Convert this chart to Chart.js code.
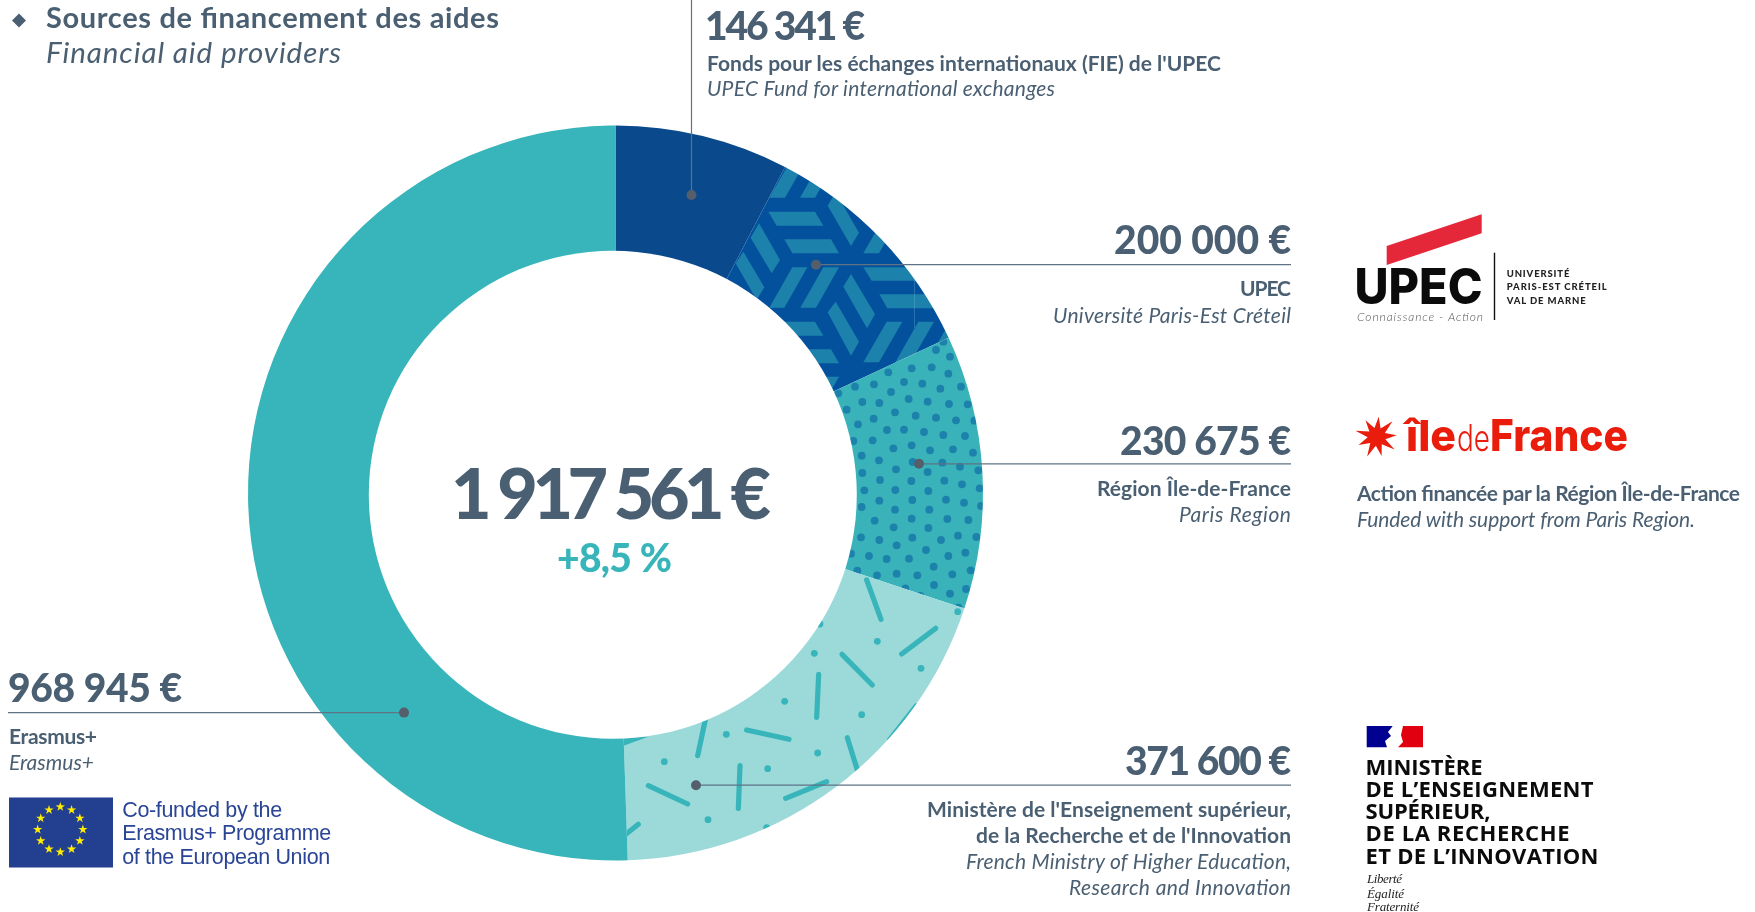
<!DOCTYPE html>
<html lang="fr"><head><meta charset="utf-8">
<title>Sources de financement des aides</title>
<script src="https://cdn.jsdelivr.net/npm/chart.js@4"></script>
<style>
html,body{margin:0;padding:0;background:#fff;width:1755px;height:912px;overflow:hidden}
#c{position:absolute;left:0;top:0}
#o{position:absolute;left:0;top:0}
</style></head><body>
<canvas id="c" width="1755" height="912"></canvas>
<svg id="o" xmlns="http://www.w3.org/2000/svg" width="1755" height="912" viewBox="0 0 1755 912"></svg>
<script>
// ---- data ----
const categories = ["Fonds pour les échanges internationaux (FIE) de l'UPEC","UPEC","Région Île-de-France","Ministère de l'Enseignement supérieur, de la Recherche et de l'Innovation","Erasmus+"];
const values = [146341,200000,230675,371600,968945];
const totalLabel = "1 917 561 €";
const changeLabel = "+8,5 %";

// ---- colours ----
const NAVY="#0A4A8C", HEXBASE="#03519D", HEXLINE="#1C82AB", DOTBASE="#39B3B9", DOTINK="#1C82AB", PALE="#9CDADA", TEAL="#38B5BA", INK="#4A5F72", LEAD="#5F7385", PIN="#555F6C";

// ---- decorative fill textures (fixed shapes, in zoomed crop units) ----
const hexShapes = [
 [[115,155],[255,155],[280,197],[140,197]],[[163,238],[303,238],[327,280],[187,280]],
 [[387,218],[363,258],[293,137],[317,97]],[[62,233],[87,190],[150,300],[125,340]],
 [[17,310],[40,275],[103,382],[80,420]],[[187,322],[232,322],[163,443],[118,443]],
 [[280,322],[327,322],[258,443],[211,443]],[[400,322],[540,322],[565,362],[425,362]],
 [[448,403],[590,403],[612,445],[472,445]],[[340,380],[363,342],[435,463],[411,505]],
 [[293,457],[317,425],[387,545],[363,587]],[[470,485],[517,485],[447,607],[400,607]],
 [[565,485],[612,485],[542,607],[496,607]],[[115,485],[255,485],[280,527],[140,527]],
 [[163,568],[303,568],[327,610],[187,610]],[[118,113],[165,113],[235,-9],[188,-9]],
 [[210,113],[255,113],[325,-9],[280,-9]],[[400,280],[447,280],[517,158],[470,158]],
 [[280,650],[327,650],[258,771],[211,771]],[[660,485],[707,485],[637,607],[590,607]]
];
const dotSpots = [[245,85],[305,82],[355,101],[360,50],[175,97],[132,133],[75,140],[222,126],[277,131],[331,146],[393,140],[183,156],[97,186],[148,189],[236,177],[293,185],[357,192],[413,193],[50,209],[195,217],[257,227],[318,233],[378,241],[433,242],[84,253],[131,236],[171,270],[222,269],[282,276],[340,285],[405,288],[128,301],[70,303],[190,325],[245,316],[300,331],[369,328],[429,338],[95,347],[147,361],[248,366],[337,368],[390,380],[445,391],[97,399],[198,388],[293,396],[150,420],[244,423],[343,422],[396,433],[449,445],[103,451],[196,450],[295,453],[148,482],[247,480],[348,479],[402,488],[453,498],[95,501],[195,509],[298,509],[134,542],[245,536],[352,537],[415,540],[191,562],[295,564],[93,592],[148,600],[247,593],[333,600],[384,587],[439,591],[63,641],[200,616],[288,630],[406,638],[117,648],[170,657],[237,656],[355,648],[311,680],[422,691],[82,692],[141,706],[200,701],[262,706],[367,703],[226,745],[312,735],[408,747],[360,761],[271,768],[318,790],[385,803],[25,160],[318,30],[340,5]];
const sprinkleDashes = [[770,60,813,178],[875,282,977,205],[696,283,787,375],[626,343,620,472],[410,510,537,538],[288,470,263,587],[390,617,385,745],[115,677,233,732],[527,715,650,665],[712,533,745,640],[10,853,85,793]];
const sprinkleDots = [[802,244],[933,325],[613,280],[755,464],[524,424],[623,579],[349,523],[473,626],[163,605],[294,779],[1043,155],[630,192],[470,803]];
const sprinkleWedges = [[[20,535],[115,530],[20,565]],[[830,538],[915,430],[935,430],[845,545]]];

function layer(base,paint){
  const t=document.createElement('canvas');t.width=1755;t.height=912;
  const g=t.getContext('2d');g.fillStyle=base;g.fillRect(0,0,1755,912);paint(g);
  return g.createPattern(t,'no-repeat');
}
const crop=(ox,oy)=>([x,y])=>[ox+x/3,oy+y/3];
const hexFill=layer(HEXBASE,g=>{
  const m=crop(730,160);g.fillStyle=HEXLINE;
  hexShapes.forEach(s=>{g.beginPath();s.map(m).forEach(([x,y],i)=>i?g.lineTo(x,y):g.moveTo(x,y));g.closePath();g.fill();});
  g.strokeStyle="rgba(120,190,215,.3)";g.lineWidth=1;g.beginPath();g.moveTo(914.5,280);g.lineTo(914.5,328);g.stroke();
});
const dotFill=layer(DOTBASE,g=>{
  const m=crop(830,340);g.fillStyle=DOTINK;
  dotSpots.forEach(p=>{const [x,y]=m(p);g.beginPath();g.arc(x,y,3.9,0,7);g.fill();});
});
const sprinkleFill=layer(PALE,g=>{
  const m=crop(610,560);g.fillStyle=TEAL;g.strokeStyle=TEAL;g.lineCap='round';g.lineWidth=5.2;
  sprinkleDashes.forEach(d=>{const a=m([d[0],d[1]]),b=m([d[2],d[3]]);g.beginPath();g.moveTo(a[0],a[1]);g.lineTo(b[0],b[1]);g.stroke();});
  sprinkleDots.forEach(p=>{const [x,y]=m(p);g.beginPath();g.arc(x,y,3.4,0,7);g.fill();});
  sprinkleWedges.forEach(s=>{g.beginPath();s.map(m).forEach(([x,y],i)=>i?g.lineTo(x,y):g.moveTo(x,y));g.closePath();g.fill();});
});

// the reference's hole sits slightly off the ring's centre
const holePlugin={id:'hole',afterDatasetsDraw(ch){const g=ch.ctx;g.save();g.fillStyle='#fff';g.beginPath();g.arc(612.8,494.8,244,0,Math.PI*2);g.fill();g.restore();}};

new Chart(document.getElementById('c'),{
  type:'doughnut',
  data:{labels:categories,datasets:[{data:values,backgroundColor:[NAVY,hexFill,dotFill,sprinkleFill,TEAL],borderWidth:0,hoverOffset:0}]},
  plugins:[holePlugin],
  options:{responsive:false,animation:false,devicePixelRatio:1,cutout:'64%',rotation:0,circumference:360,
    layout:{padding:{left:248,right:772,top:125.5,bottom:51.5}},
    plugins:{legend:{display:false},tooltip:{enabled:false},title:{display:false}}}
});

// ---- overlay: text, leader lines, logos ----
const svg=document.getElementById('o'),NS="http://www.w3.org/2000/svg";
function el(n,a,txt){const e=document.createElementNS(NS,n);for(const k in a)e.setAttribute(k,a[k]);if(txt!=null)e.textContent=txt;svg.appendChild(e);return e;}
const LATO="Lato, 'Open Sans', sans-serif", ARIAL="'Liberation Sans', Arial, sans-serif", SERIF="'Liberation Serif', serif", INTER="Inter, sans-serif";
function T(s,x,y,size,w,opt={}){
  el('text',{x,y,'font-size':size,'font-family':opt.f||LATO,'font-weight':opt.b===0?400:(opt.b||700),'font-style':opt.i?'italic':'normal',fill:opt.c||INK,textLength:w,lengthAdjust:opt.glyph?'spacingAndGlyphs':'spacing'},s);
}
const I={b:0,i:true};
const AMT={b:900};
function lead(x1,y1,x2,y2){el('line',{x1,y1,x2,y2,stroke:LEAD,'stroke-width':1.2});}
function pin(x,y){el('circle',{cx:x,cy:y,r:5,fill:PIN});}
function poly(p,fill){el('polygon',{points:p.map(a=>a.join(',')).join(' '),fill});}

// heading
poly([[19,13.5],[26,20.5],[19,27.5],[12,20.5]],INK);
T("Sources de financement des aides",46,28,29,453);
T("Financial aid providers",46,63,29.5,295,I);

// leaders
lead(691.5,0,691.5,195);pin(691.5,195);
lead(816,264.7,1291,264.7);pin(816,264.7);
lead(919,463.8,1291,463.8);pin(919,463.8);
lead(696,785.2,1291,785.2);pin(696,785.2);
lead(8,712.6,404,712.6);pin(404,712.6);

// amounts and labels
T("146 341 €",705,40,39,160,AMT);
T("Fonds pour les échanges internationaux (FIE) de l'UPEC",707,70.5,21,514);
T("UPEC Fund for international exchanges",707,96,21,348,I);
T("200 000 €",1114,254,39,177,AMT);
T("UPEC",1240,295.5,21,51);
T("Université Paris-Est Créteil",1053,322.5,21,238,I);
T("230 675 €",1120,454.5,39,171,AMT);
T("Région Île-de-France",1097,496,21,194);
T("Paris Region",1179,521.5,21,112,I);
T("371 600 €",1125,774.5,39,166,AMT);
T("Ministère de l'Enseignement supérieur,",927,817,21,364);
T("de la Recherche et de l'Innovation",976,843,21,315);
T("French Ministry of Higher Education,",966,868.5,21,325,I);
T("Research and Innovation",1069,895,21,222,I);
T("968 945 €",8,702,39,174,AMT);
T("Erasmus+",9,744,21,88);
T("Erasmus+",9,770,21,85,I);

// centre
T(totalLabel,451,518.5,70,320,{b:900});
T(changeLabel,557,571.5,39,115,{b:900,c:TEAL});

// EU block
el('rect',{x:9,y:797.5,width:104,height:70,fill:'#233F8F'});
for(let k=0;k<12;k++){
  const a=k*Math.PI/6,cx=60.3+22.6*Math.sin(a),cy=829.5-22.6*Math.cos(a),p=[];
  for(let j=0;j<10;j++){const r=j%2?1.9:4.9,b=j*Math.PI/5;p.push([cx+r*Math.sin(b),cy-r*Math.cos(b)]);}
  poly(p,'#FFED00');
}
const EU="#2A4596";
T("Co-funded by the",122.2,816.7,21.5,160,{f:ARIAL,b:0,c:EU});
T("Erasmus+ Programme",122.2,840,21.5,209,{f:ARIAL,b:0,c:EU});
T("of the European Union",122.2,863.7,21.5,208,{f:ARIAL,b:0,c:EU});

// UPEC logo
T("UPEC",1354.5,304,49,128,{b:800,f:INTER,c:'#0B0B0B',glyph:true});
poly([[1386.7,246],[1481.7,214.3],[1481.7,233.3],[1386.7,265]],'#E5273A');
T("Connaissance - Action",1357,321,12,126,{b:300,i:true,c:'#555'});
el('line',{x1:1494.5,y1:252.7,x2:1494.5,y2:320,stroke:'#111','stroke-width':1.4});
T("UNIVERSITÉ",1506.7,276.7,9.5,62.7,{b:900,c:'#222'});
T("PARIS-EST CRÉTEIL",1506.7,290,9.5,100,{b:900,c:'#222'});
T("VAL DE MARNE",1506.7,303.5,9.5,79,{b:900,c:'#222'});

// Île-de-France logo
const RED="#EA1D0C",star=[];
for(let j=0;j<18;j++){const r=j%2?9:(j%4?22:20),b=j*Math.PI/9+0.1;star.push([1376.7+r*Math.sin(b),436.7-r*Math.cos(b)]);}
poly(star,RED);
T("île",1406,451,43,50,{b:800,f:INTER,c:RED,glyph:true});
T("de",1457,451,37,33,{b:300,f:INTER,c:RED,glyph:true});
T("France",1490,451,44,138,{b:800,f:INTER,c:RED,glyph:true});
T("Action financée par la Région Île-de-France",1357,501,21,383);
T("Funded with support from Paris Region.",1357,527,21,338,I);

// Ministry logo
poly([[1366.7,726],[1392.7,726],[1388,732],[1391,736],[1385,741],[1387,747.3],[1366.7,747.3]],'#000091');
poly([[1403,726],[1423,726],[1423,747.3],[1398,747.3],[1403,742],[1401,735]],'#E1000F');
["MINISTÈRE","DE L’ENSEIGNEMENT","SUPÉRIEUR,","DE LA RECHERCHE","ET DE L’INNOVATION"].forEach((s,i)=>{
  T(s,1365.5,[774.5,797,818.5,841,863.5][i],22,[117,228,125,204,233][i],{b:700,c:'#0B0B0B',f:"'Open Sans', sans-serif"});
});
T("Liberté",1367,882.7,13,35,{f:SERIF,b:0,i:true,c:'#222'});
T("Égalité",1367,897.7,13,37,{f:SERIF,b:0,i:true,c:'#222'});
T("Fraternité",1367,911,13,52,{f:SERIF,b:0,i:true,c:'#222'});
</script>
</body></html>
